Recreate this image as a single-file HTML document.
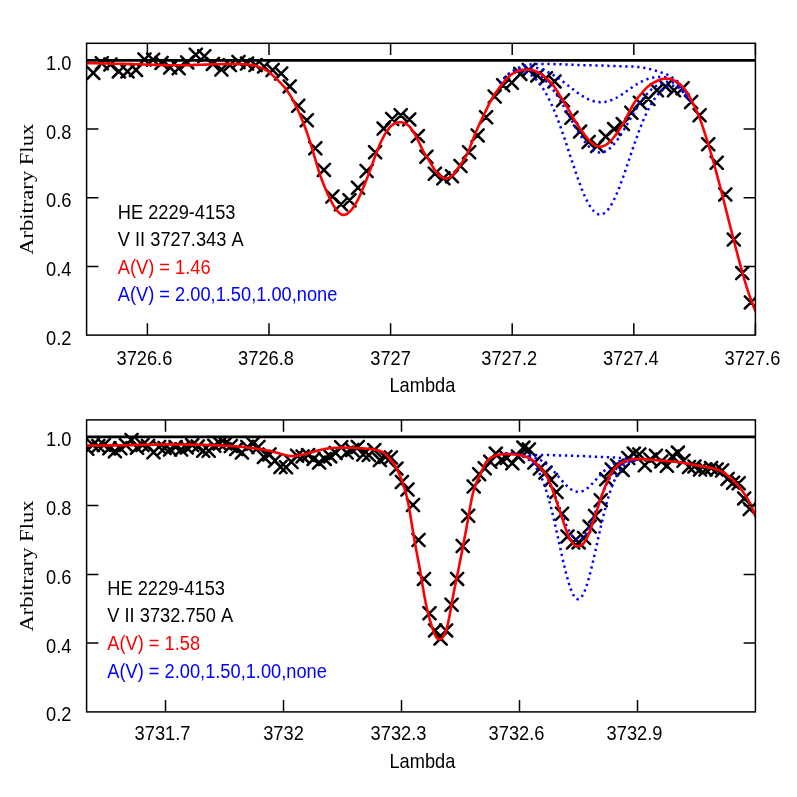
<!DOCTYPE html>
<html><head><meta charset="utf-8"><title>plot</title>
<style>
html,body{margin:0;padding:0;background:#fff;}
body{width:797px;height:797px;overflow:hidden;position:relative;font-family:"Liberation Sans",sans-serif;}
svg{display:block;position:absolute;left:0;top:0;will-change:transform;transform:translateZ(0)}
text{font-family:"Liberation Sans",sans-serif;font-size:18.25px;fill:#000;font-kerning:none}
.ser{font-family:"Liberation Serif",serif;font-size:18.2px}
.ax{stroke:#000;stroke-width:1.5;fill:none;stroke-linecap:square}
.tk{stroke:#000;stroke-width:1.5;fill:none;stroke-linecap:butt}
.x{stroke:#000;stroke-width:2.5;fill:none;stroke-linecap:round}
.red{stroke:#f00;stroke-width:2.6;fill:none;stroke-linejoin:round;stroke-linecap:round}
.blue{stroke:#00f;stroke-width:2.5;fill:none;stroke-dasharray:2.3 3.7;stroke-linecap:butt}
.one{stroke:#000;stroke-width:2.6;fill:none}
</style></head><body>
<svg width="797" height="797" viewBox="0 0 797 797">
<rect width="797" height="797" fill="#fff"/>
<defs>
<clipPath id="c1"><rect x="86.6" y="43.3" width="668.8" height="291.8"/></clipPath>
<clipPath id="c2"><rect x="86.6" y="419.9" width="668.8" height="292.0"/></clipPath>
</defs>

<g clip-path="url(#c1)">
<path class="x" d="M87.2 66.8 l12.2 12.2 M87.2 79.0 l12.2 -12.2M95.7 57.1 l12.2 12.2 M95.7 69.3 l12.2 -12.2M104.3 58.4 l12.2 12.2 M104.3 70.6 l12.2 -12.2M112.8 65.3 l12.2 12.2 M112.8 77.5 l12.2 -12.2M121.4 65.3 l12.2 12.2 M121.4 77.5 l12.2 -12.2M129.9 63.8 l12.2 12.2 M129.9 76.0 l12.2 -12.2M138.4 53.4 l12.2 12.2 M138.4 65.6 l12.2 -12.2M147.0 53.6 l12.2 12.2 M147.0 65.8 l12.2 -12.2M155.5 56.8 l12.2 12.2 M155.5 69.0 l12.2 -12.2M164.1 61.5 l12.2 12.2 M164.1 73.7 l12.2 -12.2M172.6 62.1 l12.2 12.2 M172.6 74.3 l12.2 -12.2M181.1 56.3 l12.2 12.2 M181.1 68.5 l12.2 -12.2M189.7 48.6 l12.2 12.2 M189.7 60.8 l12.2 -12.2M198.2 50.2 l12.2 12.2 M198.2 62.4 l12.2 -12.2M206.8 57.8 l12.2 12.2 M206.8 70.0 l12.2 -12.2M215.3 63.4 l12.2 12.2 M215.3 75.6 l12.2 -12.2M223.8 59.0 l12.2 12.2 M223.8 71.2 l12.2 -12.2M232.4 55.9 l12.2 12.2 M232.4 68.1 l12.2 -12.2M240.9 57.5 l12.2 12.2 M240.9 69.7 l12.2 -12.2M249.5 59.0 l12.2 12.2 M249.5 71.2 l12.2 -12.2M258.0 60.4 l12.2 12.2 M258.0 72.6 l12.2 -12.2M266.5 63.9 l12.2 12.2 M266.5 76.1 l12.2 -12.2M275.1 67.4 l12.2 12.2 M275.1 79.6 l12.2 -12.2M283.6 80.3 l12.2 12.2 M283.6 92.5 l12.2 -12.2M292.2 99.6 l12.2 12.2 M292.2 111.8 l12.2 -12.2M300.7 114.2 l12.2 12.2 M300.7 126.4 l12.2 -12.2M309.2 142.2 l12.2 12.2 M309.2 154.4 l12.2 -12.2M317.8 163.8 l12.2 12.2 M317.8 176.0 l12.2 -12.2M326.3 190.4 l12.2 12.2 M326.3 202.6 l12.2 -12.2M334.9 198.2 l12.2 12.2 M334.9 210.4 l12.2 -12.2M343.4 194.2 l12.2 12.2 M343.4 206.4 l12.2 -12.2M351.9 181.7 l12.2 12.2 M351.9 193.9 l12.2 -12.2M360.5 164.9 l12.2 12.2 M360.5 177.1 l12.2 -12.2M369.0 146.1 l12.2 12.2 M369.0 158.3 l12.2 -12.2M377.6 122.5 l12.2 12.2 M377.6 134.7 l12.2 -12.2M386.1 112.9 l12.2 12.2 M386.1 125.1 l12.2 -12.2M394.6 109.1 l12.2 12.2 M394.6 121.3 l12.2 -12.2M403.2 113.3 l12.2 12.2 M403.2 125.5 l12.2 -12.2M411.7 130.0 l12.2 12.2 M411.7 142.2 l12.2 -12.2M420.3 150.6 l12.2 12.2 M420.3 162.8 l12.2 -12.2M428.8 167.7 l12.2 12.2 M428.8 179.9 l12.2 -12.2M437.3 172.2 l12.2 12.2 M437.3 184.4 l12.2 -12.2M445.9 170.1 l12.2 12.2 M445.9 182.3 l12.2 -12.2M454.4 159.9 l12.2 12.2 M454.4 172.1 l12.2 -12.2M463.0 146.1 l12.2 12.2 M463.0 158.3 l12.2 -12.2M471.5 129.3 l12.2 12.2 M471.5 141.5 l12.2 -12.2M480.0 111.2 l12.2 12.2 M480.0 123.4 l12.2 -12.2M488.6 90.4 l12.2 12.2 M488.6 102.6 l12.2 -12.2M497.1 79.1 l12.2 12.2 M497.1 91.3 l12.2 -12.2M505.7 76.6 l12.2 12.2 M505.7 88.8 l12.2 -12.2M514.2 67.8 l12.2 12.2 M514.2 80.0 l12.2 -12.2M522.7 63.8 l12.2 12.2 M522.7 76.0 l12.2 -12.2M531.3 69.3 l12.2 12.2 M531.3 81.5 l12.2 -12.2M539.8 72.1 l12.2 12.2 M539.8 84.3 l12.2 -12.2M548.4 75.3 l12.2 12.2 M548.4 87.5 l12.2 -12.2M556.9 94.1 l12.2 12.2 M556.9 106.3 l12.2 -12.2M565.4 111.7 l12.2 12.2 M565.4 123.9 l12.2 -12.2M574.0 125.5 l12.2 12.2 M574.0 137.7 l12.2 -12.2M582.5 135.9 l12.2 12.2 M582.5 148.1 l12.2 -12.2M591.1 139.9 l12.2 12.2 M591.1 152.1 l12.2 -12.2M599.6 130.5 l12.2 12.2 M599.6 142.7 l12.2 -12.2M608.1 123.0 l12.2 12.2 M608.1 135.2 l12.2 -12.2M616.7 118.0 l12.2 12.2 M616.7 130.2 l12.2 -12.2M625.2 106.7 l12.2 12.2 M625.2 118.9 l12.2 -12.2M633.8 96.6 l12.2 12.2 M633.8 108.8 l12.2 -12.2M642.3 92.9 l12.2 12.2 M642.3 105.1 l12.2 -12.2M650.8 84.1 l12.2 12.2 M650.8 96.3 l12.2 -12.2M659.4 80.3 l12.2 12.2 M659.4 92.5 l12.2 -12.2M667.9 84.1 l12.2 12.2 M667.9 96.3 l12.2 -12.2M676.5 82.1 l12.2 12.2 M676.5 94.3 l12.2 -12.2M685.0 95.9 l12.2 12.2 M685.0 108.1 l12.2 -12.2M693.5 109.1 l12.2 12.2 M693.5 121.3 l12.2 -12.2M702.1 138.2 l12.2 12.2 M702.1 150.4 l12.2 -12.2M710.6 156.7 l12.2 12.2 M710.6 168.9 l12.2 -12.2M719.2 188.4 l12.2 12.2 M719.2 200.6 l12.2 -12.2M727.7 233.5 l12.2 12.2 M727.7 245.7 l12.2 -12.2M736.2 267.0 l12.2 12.2 M736.2 279.2 l12.2 -12.2M744.8 296.3 l12.2 12.2 M744.8 308.5 l12.2 -12.2"/>
<path class="one" d="M86.6 60.4 H755.4"/>
<path d="M500.0 83.5 L501.0 82.1 L502.0 80.8 L503.0 79.5 L504.0 78.4 L505.0 77.3 L506.0 76.3 L507.0 75.3 L508.0 74.4 L509.0 73.6 L510.0 72.9 L511.0 72.2 L512.0 71.5 L513.0 71.0 L514.0 70.4 L515.0 69.8 L516.0 69.2 L517.0 68.7 L518.0 68.1 L519.0 67.6 L520.0 67.1 L521.0 66.7 L522.0 66.3 L523.0 66.0 L524.0 65.7 L525.0 65.4 L526.0 65.2 L527.0 65.0 L528.0 64.8 L529.0 64.6 L530.0 64.5 L531.0 64.4 L532.0 64.3 L533.0 64.2 L534.0 64.2 L535.0 64.1 L536.0 64.1 L537.0 64.0 L538.0 64.0 L539.0 64.0 L540.0 64.0 L541.0 64.0 L542.0 64.0 L543.0 64.0 L544.0 64.0 L545.0 64.0 L546.0 64.0 L547.0 64.0 L548.0 64.0 L549.0 64.0 L550.0 64.1 L551.0 64.1 L552.0 64.1 L553.0 64.1 L554.0 64.1 L555.0 64.2 L556.0 64.2 L557.0 64.2 L558.0 64.2 L559.0 64.3 L560.0 64.3 L561.0 64.3 L562.0 64.4 L563.0 64.4 L564.0 64.5 L565.0 64.5 L566.0 64.5 L567.0 64.6 L568.0 64.6 L569.0 64.7 L570.0 64.7 L571.0 64.8 L572.0 64.8 L573.0 64.8 L574.0 64.9 L575.0 64.9 L576.0 65.0 L577.0 65.0 L578.0 65.0 L579.0 65.1 L580.0 65.1 L581.0 65.1 L582.0 65.2 L583.0 65.2 L584.0 65.2 L585.0 65.2 L586.0 65.2 L587.0 65.2 L588.0 65.3 L589.0 65.3 L590.0 65.3 L591.0 65.3 L592.0 65.3 L593.0 65.3 L594.0 65.4 L595.0 65.4 L596.0 65.4 L597.0 65.4 L598.0 65.4 L599.0 65.5 L600.0 65.5 L601.0 65.5 L602.0 65.6 L603.0 65.6 L604.0 65.6 L605.0 65.7 L606.0 65.7 L607.0 65.8 L608.0 65.8 L609.0 65.9 L610.0 65.9 L611.0 66.0 L612.0 66.0 L613.0 66.0 L614.0 66.1 L615.0 66.1 L616.0 66.2 L617.0 66.2 L618.0 66.2 L619.0 66.3 L620.0 66.3 L621.0 66.3 L622.0 66.3 L623.0 66.4 L624.0 66.4 L625.0 66.4 L626.0 66.4 L627.0 66.4 L628.0 66.5 L629.0 66.5 L630.0 66.5 L631.0 66.6 L632.0 66.6 L633.0 66.6 L634.0 66.7 L635.0 66.8 L636.0 66.8 L637.0 66.9 L638.0 67.0 L639.0 67.1 L640.0 67.2 L641.0 67.3 L642.0 67.5 L643.0 67.6 L644.0 67.8 L645.0 68.0 L646.0 68.2 L647.0 68.4 L648.0 68.6 L649.0 68.9 L650.0 69.1 L651.0 69.4 L652.0 69.7 L653.0 69.9 L654.0 70.2 L655.0 70.5 L656.0 70.8 L657.0 71.1 L658.0 71.4 L659.0 71.7 L660.0 72.0 L661.0 72.4 L662.0 72.7 L663.0 73.0 L664.0 73.4 L665.0 73.7 L666.0 74.1 L667.0 74.5 L668.0 75.0 L669.0 75.5 L670.0 76.1 L671.0 76.7 L672.0 77.3 L673.0 78.0 L674.0 78.6 L675.0 79.3 L676.0 80.1 L677.0 80.9 L678.0 81.9 L679.0 83.1 L680.0 84.3 L681.0 85.8 L682.0 87.4 L683.0 89.0 L684.0 90.6 L685.0 92.1 L686.0 93.5 L687.0 94.8 L688.0 96.1 L689.0 97.5 L690.0 99.1 L691.0 100.9 L692.0 103.0" class="blue"/>
<path d="M500.0 83.6 L501.0 82.3 L502.0 81.0 L503.0 79.7 L504.0 78.6 L505.0 77.5 L506.0 76.5 L507.0 75.6 L508.0 74.7 L509.0 74.0 L510.0 73.3 L511.0 72.6 L512.0 72.0 L513.0 71.5 L514.0 71.0 L515.0 70.5 L516.0 70.0 L517.0 69.5 L518.0 69.0 L519.0 68.6 L520.0 68.2 L521.0 67.9 L522.0 67.6 L523.0 67.3 L524.0 67.2 L525.0 67.0 L526.0 66.9 L527.0 66.9 L528.0 66.9 L529.0 66.9 L530.0 66.9 L531.0 67.0 L532.0 67.1 L533.0 67.3 L534.0 67.4 L535.0 67.6 L536.0 67.8 L537.0 68.1 L538.0 68.3 L539.0 68.6 L540.0 68.9 L541.0 69.3 L542.0 69.6 L543.0 70.0 L544.0 70.4 L545.0 70.8 L546.0 71.3 L547.0 71.7 L548.0 72.2 L549.0 72.7 L550.0 73.2 L551.0 73.7 L552.0 74.3 L553.0 74.9 L554.0 75.5 L555.0 76.1 L556.0 76.7 L557.0 77.3 L558.0 78.0 L559.0 78.7 L560.0 79.4 L561.0 80.1 L562.0 80.8 L563.0 81.6 L564.0 82.3 L565.0 83.1 L566.0 83.8 L567.0 84.6 L568.0 85.4 L569.0 86.2 L570.0 87.0 L571.0 87.8 L572.0 88.5 L573.0 89.3 L574.0 90.1 L575.0 90.9 L576.0 91.6 L577.0 92.4 L578.0 93.1 L579.0 93.8 L580.0 94.5 L581.0 95.2 L582.0 95.8 L583.0 96.4 L584.0 97.0 L585.0 97.6 L586.0 98.1 L587.0 98.7 L588.0 99.1 L589.0 99.6 L590.0 100.0 L591.0 100.4 L592.0 100.7 L593.0 101.1 L594.0 101.3 L595.0 101.6 L596.0 101.8 L597.0 101.9 L598.0 102.1 L599.0 102.1 L600.0 102.2 L601.0 102.2 L602.0 102.2 L603.0 102.1 L604.0 102.0 L605.0 101.9 L606.0 101.7 L607.0 101.5 L608.0 101.2 L609.0 101.0 L610.0 100.6 L611.0 100.3 L612.0 99.9 L613.0 99.5 L614.0 99.0 L615.0 98.5 L616.0 98.0 L617.0 97.5 L618.0 96.9 L619.0 96.3 L620.0 95.7 L621.0 95.0 L622.0 94.4 L623.0 93.7 L624.0 93.0 L625.0 92.3 L626.0 91.6 L627.0 90.9 L628.0 90.2 L629.0 89.5 L630.0 88.8 L631.0 88.1 L632.0 87.4 L633.0 86.7 L634.0 86.0 L635.0 85.3 L636.0 84.7 L637.0 84.1 L638.0 83.5 L639.0 82.9 L640.0 82.3 L641.0 81.8 L642.0 81.3 L643.0 80.8 L644.0 80.3 L645.0 79.9 L646.0 79.5 L647.0 79.2 L648.0 78.9 L649.0 78.6 L650.0 78.3 L651.0 78.0 L652.0 77.8 L653.0 77.6 L654.0 77.5 L655.0 77.3 L656.0 77.2 L657.0 77.1 L658.0 77.1 L659.0 77.0 L660.0 77.0 L661.0 77.0 L662.0 77.0 L663.0 77.1 L664.0 77.1 L665.0 77.2 L666.0 77.4 L667.0 77.6 L668.0 77.8 L669.0 78.1 L670.0 78.5 L671.0 78.9 L672.0 79.4 L673.0 79.9 L674.0 80.4 L675.0 80.9 L676.0 81.5 L677.0 82.3 L678.0 83.2 L679.0 84.2 L680.0 85.4 L681.0 86.8 L682.0 88.3 L683.0 89.8 L684.0 91.4 L685.0 92.8 L686.0 94.1 L687.0 95.3 L688.0 96.6 L689.0 98.0 L690.0 99.5 L691.0 101.3 L692.0 103.3" class="blue"/>
<path d="M500.0 83.8 L501.0 82.5 L502.0 81.2 L503.0 80.0 L504.0 78.9 L505.0 77.9 L506.0 76.9 L507.0 76.0 L508.0 75.2 L509.0 74.5 L510.0 73.8 L511.0 73.2 L512.0 72.7 L513.0 72.3 L514.0 71.8 L515.0 71.4 L516.0 71.0 L517.0 70.6 L518.0 70.2 L519.0 69.9 L520.0 69.6 L521.0 69.4 L522.0 69.3 L523.0 69.2 L524.0 69.2 L525.0 69.2 L526.0 69.3 L527.0 69.5 L528.0 69.7 L529.0 69.9 L530.0 70.2 L531.0 70.6 L532.0 71.0 L533.0 71.4 L534.0 71.9 L535.0 72.4 L536.0 73.0 L537.0 73.6 L538.0 74.3 L539.0 75.0 L540.0 75.8 L541.0 76.6 L542.0 77.4 L543.0 78.3 L544.0 79.2 L545.0 80.2 L546.0 81.2 L547.0 82.3 L548.0 83.4 L549.0 84.6 L550.0 85.8 L551.0 87.0 L552.0 88.3 L553.0 89.6 L554.0 91.0 L555.0 92.4 L556.0 93.9 L557.0 95.4 L558.0 96.9 L559.0 98.5 L560.0 100.1 L561.0 101.7 L562.0 103.4 L563.0 105.1 L564.0 106.8 L565.0 108.5 L566.0 110.3 L567.0 112.1 L568.0 113.9 L569.0 115.7 L570.0 117.5 L571.0 119.3 L572.0 121.1 L573.0 122.9 L574.0 124.6 L575.0 126.4 L576.0 128.1 L577.0 129.8 L578.0 131.5 L579.0 133.2 L580.0 134.8 L581.0 136.3 L582.0 137.8 L583.0 139.3 L584.0 140.7 L585.0 142.0 L586.0 143.3 L587.0 144.5 L588.0 145.6 L589.0 146.6 L590.0 147.6 L591.0 148.5 L592.0 149.3 L593.0 150.0 L594.0 150.6 L595.0 151.2 L596.0 151.6 L597.0 152.0 L598.0 152.3 L599.0 152.4 L600.0 152.5 L601.0 152.5 L602.0 152.4 L603.0 152.2 L604.0 151.9 L605.0 151.5 L606.0 151.0 L607.0 150.4 L608.0 149.8 L609.0 149.0 L610.0 148.2 L611.0 147.3 L612.0 146.3 L613.0 145.2 L614.0 144.1 L615.0 142.9 L616.0 141.6 L617.0 140.3 L618.0 138.9 L619.0 137.5 L620.0 136.0 L621.0 134.4 L622.0 132.8 L623.0 131.2 L624.0 129.6 L625.0 127.9 L626.0 126.2 L627.0 124.5 L628.0 122.7 L629.0 121.0 L630.0 119.3 L631.0 117.6 L632.0 115.9 L633.0 114.2 L634.0 112.5 L635.0 110.8 L636.0 109.2 L637.0 107.6 L638.0 106.0 L639.0 104.5 L640.0 103.0 L641.0 101.5 L642.0 100.1 L643.0 98.8 L644.0 97.5 L645.0 96.3 L646.0 95.1 L647.0 93.9 L648.0 92.8 L649.0 91.8 L650.0 90.8 L651.0 89.9 L652.0 89.0 L653.0 88.2 L654.0 87.4 L655.0 86.7 L656.0 86.0 L657.0 85.4 L658.0 84.8 L659.0 84.3 L660.0 83.8 L661.0 83.4 L662.0 83.0 L663.0 82.6 L664.0 82.3 L665.0 82.1 L666.0 81.9 L667.0 81.7 L668.0 81.7 L669.0 81.7 L670.0 81.8 L671.0 82.0 L672.0 82.2 L673.0 82.5 L674.0 82.8 L675.0 83.1 L676.0 83.6 L677.0 84.1 L678.0 84.9 L679.0 85.8 L680.0 86.8 L681.0 88.1 L682.0 89.5 L683.0 90.9 L684.0 92.4 L685.0 93.7 L686.0 94.9 L687.0 96.1 L688.0 97.3 L689.0 98.6 L690.0 100.0 L691.0 101.8 L692.0 103.8" class="blue"/>
<path d="M500.0 84.1 L501.0 82.7 L502.0 81.5 L503.0 80.3 L504.0 79.3 L505.0 78.3 L506.0 77.4 L507.0 76.5 L508.0 75.8 L509.0 75.1 L510.0 74.5 L511.0 74.0 L512.0 73.6 L513.0 73.2 L514.0 72.8 L515.0 72.5 L516.0 72.2 L517.0 71.9 L518.0 71.7 L519.0 71.5 L520.0 71.4 L521.0 71.4 L522.0 71.4 L523.0 71.5 L524.0 71.7 L525.0 72.0 L526.0 72.3 L527.0 72.7 L528.0 73.2 L529.0 73.7 L530.0 74.3 L531.0 75.0 L532.0 75.7 L533.0 76.5 L534.0 77.4 L535.0 78.4 L536.0 79.4 L537.0 80.5 L538.0 81.6 L539.0 82.8 L540.0 84.1 L541.0 85.5 L542.0 87.0 L543.0 88.5 L544.0 90.1 L545.0 91.8 L546.0 93.5 L547.0 95.3 L548.0 97.2 L549.0 99.2 L550.0 101.2 L551.0 103.3 L552.0 105.5 L553.0 107.8 L554.0 110.1 L555.0 112.5 L556.0 115.0 L557.0 117.6 L558.0 120.2 L559.0 122.8 L560.0 125.6 L561.0 128.3 L562.0 131.2 L563.0 134.1 L564.0 137.0 L565.0 139.9 L566.0 142.9 L567.0 145.9 L568.0 149.0 L569.0 152.0 L570.0 155.1 L571.0 158.1 L572.0 161.2 L573.0 164.2 L574.0 167.2 L575.0 170.2 L576.0 173.2 L577.0 176.1 L578.0 178.9 L579.0 181.7 L580.0 184.4 L581.0 187.1 L582.0 189.6 L583.0 192.1 L584.0 194.4 L585.0 196.7 L586.0 198.9 L587.0 200.9 L588.0 202.8 L589.0 204.6 L590.0 206.2 L591.0 207.8 L592.0 209.1 L593.0 210.3 L594.0 211.4 L595.0 212.3 L596.0 213.1 L597.0 213.7 L598.0 214.1 L599.0 214.4 L600.0 214.5 L601.0 214.4 L602.0 214.2 L603.0 213.9 L604.0 213.3 L605.0 212.6 L606.0 211.8 L607.0 210.8 L608.0 209.6 L609.0 208.3 L610.0 206.9 L611.0 205.3 L612.0 203.5 L613.0 201.7 L614.0 199.7 L615.0 197.6 L616.0 195.4 L617.0 193.1 L618.0 190.7 L619.0 188.2 L620.0 185.6 L621.0 182.9 L622.0 180.2 L623.0 177.4 L624.0 174.6 L625.0 171.7 L626.0 168.8 L627.0 165.8 L628.0 162.9 L629.0 159.9 L630.0 156.9 L631.0 153.9 L632.0 151.0 L633.0 148.0 L634.0 145.1 L635.0 142.2 L636.0 139.4 L637.0 136.6 L638.0 133.8 L639.0 131.1 L640.0 128.5 L641.0 125.9 L642.0 123.4 L643.0 121.0 L644.0 118.6 L645.0 116.4 L646.0 114.2 L647.0 112.1 L648.0 110.1 L649.0 108.1 L650.0 106.3 L651.0 104.5 L652.0 102.8 L653.0 101.2 L654.0 99.7 L655.0 98.3 L656.0 96.9 L657.0 95.6 L658.0 94.4 L659.0 93.3 L660.0 92.2 L661.0 91.2 L662.0 90.3 L663.0 89.5 L664.0 88.7 L665.0 88.0 L666.0 87.4 L667.0 86.8 L668.0 86.4 L669.0 86.1 L670.0 85.9 L671.0 85.7 L672.0 85.7 L673.0 85.7 L674.0 85.7 L675.0 85.9 L676.0 86.1 L677.0 86.4 L678.0 87.0 L679.0 87.7 L680.0 88.6 L681.0 89.7 L682.0 90.9 L683.0 92.3 L684.0 93.6 L685.0 94.8 L686.0 95.9 L687.0 97.0 L688.0 98.1 L689.0 99.3 L690.0 100.7 L691.0 102.4 L692.0 104.4" class="blue"/>
<path d="M80.0 63.2 L81.0 63.2 L82.0 63.2 L83.0 63.2 L84.0 63.2 L85.0 63.2 L86.0 63.2 L87.0 63.2 L88.0 63.2 L89.0 63.2 L90.0 63.2 L91.0 63.2 L92.0 63.2 L93.0 63.3 L94.0 63.3 L95.0 63.3 L96.0 63.3 L97.0 63.3 L98.0 63.3 L99.0 63.4 L100.0 63.4 L101.0 63.4 L102.0 63.4 L103.0 63.4 L104.0 63.5 L105.0 63.5 L106.0 63.5 L107.0 63.5 L108.0 63.6 L109.0 63.6 L110.0 63.6 L111.0 63.6 L112.0 63.6 L113.0 63.7 L114.0 63.7 L115.0 63.7 L116.0 63.7 L117.0 63.8 L118.0 63.8 L119.0 63.8 L120.0 63.8 L121.0 63.8 L122.0 63.9 L123.0 63.9 L124.0 63.9 L125.0 63.9 L126.0 64.0 L127.0 64.0 L128.0 64.0 L129.0 64.0 L130.0 64.1 L131.0 64.1 L132.0 64.1 L133.0 64.1 L134.0 64.2 L135.0 64.2 L136.0 64.2 L137.0 64.3 L138.0 64.3 L139.0 64.3 L140.0 64.4 L141.0 64.4 L142.0 64.4 L143.0 64.5 L144.0 64.5 L145.0 64.5 L146.0 64.6 L147.0 64.6 L148.0 64.6 L149.0 64.7 L150.0 64.7 L151.0 64.7 L152.0 64.8 L153.0 64.8 L154.0 64.8 L155.0 64.9 L156.0 64.9 L157.0 64.9 L158.0 64.9 L159.0 65.0 L160.0 65.0 L161.0 65.0 L162.0 65.0 L163.0 65.1 L164.0 65.1 L165.0 65.1 L166.0 65.1 L167.0 65.1 L168.0 65.2 L169.0 65.2 L170.0 65.2 L171.0 65.2 L172.0 65.2 L173.0 65.2 L174.0 65.2 L175.0 65.2 L176.0 65.2 L177.0 65.2 L178.0 65.2 L179.0 65.2 L180.0 65.2 L181.0 65.2 L182.0 65.2 L183.0 65.2 L184.0 65.2 L185.0 65.1 L186.0 65.1 L187.0 65.1 L188.0 65.1 L189.0 65.1 L190.0 65.0 L191.0 65.0 L192.0 65.0 L193.0 65.0 L194.0 64.9 L195.0 64.9 L196.0 64.9 L197.0 64.9 L198.0 64.8 L199.0 64.8 L200.0 64.8 L201.0 64.7 L202.0 64.7 L203.0 64.7 L204.0 64.6 L205.0 64.6 L206.0 64.6 L207.0 64.5 L208.0 64.5 L209.0 64.5 L210.0 64.4 L211.0 64.4 L212.0 64.4 L213.0 64.3 L214.0 64.3 L215.0 64.3 L216.0 64.2 L217.0 64.2 L218.0 64.2 L219.0 64.2 L220.0 64.1 L221.0 64.1 L222.0 64.1 L223.0 64.1 L224.0 64.1 L225.0 64.0 L226.0 64.0 L227.0 64.0 L228.0 64.0 L229.0 64.0 L230.0 64.0 L231.0 64.0 L232.0 64.0 L233.0 64.0 L234.0 64.0 L235.0 64.0 L236.0 64.0 L237.0 64.0 L238.0 64.1 L239.0 64.1 L240.0 64.1 L241.0 64.1 L242.0 64.2 L243.0 64.2 L244.0 64.3 L245.0 64.3 L246.0 64.4 L247.0 64.4 L248.0 64.5 L249.0 64.6 L250.0 64.7 L251.0 64.8 L252.0 64.9 L253.0 65.1 L254.0 65.3 L255.0 65.6 L256.0 65.9 L257.0 66.2 L258.0 66.6 L259.0 67.0 L260.0 67.4 L261.0 67.8 L262.0 68.3 L263.0 68.7 L264.0 69.2 L265.0 69.7 L266.0 70.2 L267.0 70.8 L268.0 71.4 L269.0 72.1 L270.0 72.9 L271.0 73.8 L272.0 74.7 L273.0 75.6 L274.0 76.5 L275.0 77.5 L276.0 78.5 L277.0 79.4 L278.0 80.4 L279.0 81.4 L280.0 82.4 L281.0 83.4 L282.0 84.5 L283.0 85.6 L284.0 86.7 L285.0 87.9 L286.0 89.2 L287.0 90.6 L288.0 92.0 L289.0 93.5 L290.0 95.0 L291.0 96.7 L292.0 98.4 L293.0 100.2 L294.0 102.1 L295.0 104.1 L296.0 106.1 L297.0 108.2 L298.0 110.3 L299.0 112.5 L300.0 114.8 L301.0 117.2 L302.0 119.6 L303.0 122.1 L304.0 124.7 L305.0 127.3 L306.0 130.0 L307.0 132.8 L308.0 135.7 L309.0 138.7 L310.0 141.7 L311.0 144.8 L312.0 148.1 L313.0 151.4 L314.0 154.8 L315.0 158.3 L316.0 161.7 L317.0 165.1 L318.0 168.5 L319.0 171.7 L320.0 174.7 L321.0 177.5 L322.0 180.2 L323.0 182.8 L324.0 185.2 L325.0 187.7 L326.0 190.1 L327.0 192.4 L328.0 194.7 L329.0 196.8 L330.0 198.9 L331.0 200.9 L332.0 202.8 L333.0 204.6 L334.0 206.3 L335.0 207.8 L336.0 209.3 L337.0 210.6 L338.0 211.7 L339.0 212.8 L340.0 213.6 L341.0 214.3 L342.0 214.7 L343.0 214.9 L344.0 214.9 L345.0 214.7 L346.0 214.3 L347.0 213.8 L348.0 213.1 L349.0 212.3 L350.0 211.3 L351.0 210.3 L352.0 209.1 L353.0 207.8 L354.0 206.4 L355.0 204.9 L356.0 203.2 L357.0 201.4 L358.0 199.5 L359.0 197.5 L360.0 195.3 L361.0 193.0 L362.0 190.7 L363.0 188.3 L364.0 185.9 L365.0 183.4 L366.0 180.9 L367.0 178.4 L368.0 175.8 L369.0 173.1 L370.0 170.4 L371.0 167.7 L372.0 164.9 L373.0 162.2 L374.0 159.4 L375.0 156.7 L376.0 154.0 L377.0 151.4 L378.0 148.9 L379.0 146.4 L380.0 144.0 L381.0 141.8 L382.0 139.7 L383.0 137.6 L384.0 135.8 L385.0 134.0 L386.0 132.4 L387.0 130.9 L388.0 129.5 L389.0 128.2 L390.0 127.1 L391.0 126.1 L392.0 125.3 L393.0 124.5 L394.0 123.9 L395.0 123.4 L396.0 123.0 L397.0 122.7 L398.0 122.5 L399.0 122.3 L400.0 122.3 L401.0 122.3 L402.0 122.4 L403.0 122.6 L404.0 122.9 L405.0 123.3 L406.0 123.8 L407.0 124.4 L408.0 125.2 L409.0 126.1 L410.0 127.2 L411.0 128.4 L412.0 129.7 L413.0 131.2 L414.0 132.8 L415.0 134.5 L416.0 136.3 L417.0 138.2 L418.0 140.2 L419.0 142.3 L420.0 144.4 L421.0 146.6 L422.0 148.6 L423.0 150.6 L424.0 152.4 L425.0 154.0 L426.0 155.7 L427.0 157.3 L428.0 158.9 L429.0 160.5 L430.0 162.2 L431.0 163.8 L432.0 165.5 L433.0 167.2 L434.0 168.8 L435.0 170.3 L436.0 171.7 L437.0 173.0 L438.0 174.1 L439.0 175.1 L440.0 175.9 L441.0 176.7 L442.0 177.3 L443.0 177.8 L444.0 178.2 L445.0 178.5 L446.0 178.5 L447.0 178.4 L448.0 178.1 L449.0 177.7 L450.0 177.2 L451.0 176.5 L452.0 175.8 L453.0 174.9 L454.0 173.8 L455.0 172.5 L456.0 171.2 L457.0 169.7 L458.0 168.2 L459.0 166.7 L460.0 165.3 L461.0 163.9 L462.0 162.5 L463.0 161.0 L464.0 159.5 L465.0 157.9 L466.0 156.1 L467.0 154.2 L468.0 152.0 L469.0 149.7 L470.0 147.3 L471.0 144.7 L472.0 142.1 L473.0 139.5 L474.0 136.8 L475.0 134.3 L476.0 131.8 L477.0 129.5 L478.0 127.2 L479.0 125.0 L480.0 122.9 L481.0 120.8 L482.0 118.7 L483.0 116.6 L484.0 114.6 L485.0 112.5 L486.0 110.4 L487.0 108.4 L488.0 106.3 L489.0 104.3 L490.0 102.4 L491.0 100.5 L492.0 98.7 L493.0 97.0 L494.0 95.4 L495.0 93.8 L496.0 92.3 L497.0 90.9 L498.0 89.5 L499.0 88.2 L500.0 86.9 L501.0 85.6 L502.0 84.3 L503.0 83.0 L504.0 81.8 L505.0 80.6 L506.0 79.5 L507.0 78.4 L508.0 77.4 L509.0 76.5 L510.0 75.6 L511.0 74.8 L512.0 74.1 L513.0 73.5 L514.0 72.9 L515.0 72.3 L516.0 71.8 L517.0 71.4 L518.0 71.0 L519.0 70.7 L520.0 70.4 L521.0 70.2 L522.0 70.0 L523.0 69.9 L524.0 69.7 L525.0 69.7 L526.0 69.6 L527.0 69.6 L528.0 69.6 L529.0 69.7 L530.0 69.8 L531.0 69.9 L532.0 70.1 L533.0 70.3 L534.0 70.6 L535.0 70.9 L536.0 71.3 L537.0 71.8 L538.0 72.3 L539.0 72.9 L540.0 73.5 L541.0 74.2 L542.0 74.9 L543.0 75.7 L544.0 76.5 L545.0 77.3 L546.0 78.1 L547.0 78.9 L548.0 79.8 L549.0 80.7 L550.0 81.7 L551.0 82.7 L552.0 83.9 L553.0 85.1 L554.0 86.4 L555.0 87.9 L556.0 89.3 L557.0 90.9 L558.0 92.5 L559.0 94.1 L560.0 95.7 L561.0 97.3 L562.0 98.9 L563.0 100.5 L564.0 102.1 L565.0 103.7 L566.0 105.3 L567.0 107.0 L568.0 108.6 L569.0 110.3 L570.0 112.1 L571.0 113.9 L572.0 115.7 L573.0 117.4 L574.0 119.1 L575.0 120.8 L576.0 122.5 L577.0 124.0 L578.0 125.6 L579.0 127.0 L580.0 128.5 L581.0 129.9 L582.0 131.2 L583.0 132.6 L584.0 133.9 L585.0 135.3 L586.0 136.6 L587.0 137.9 L588.0 139.1 L589.0 140.2 L590.0 141.3 L591.0 142.2 L592.0 143.1 L593.0 143.9 L594.0 144.6 L595.0 145.2 L596.0 145.7 L597.0 146.1 L598.0 146.4 L599.0 146.6 L600.0 146.7 L601.0 146.6 L602.0 146.4 L603.0 146.2 L604.0 145.8 L605.0 145.3 L606.0 144.8 L607.0 144.2 L608.0 143.4 L609.0 142.6 L610.0 141.6 L611.0 140.6 L612.0 139.5 L613.0 138.3 L614.0 137.0 L615.0 135.7 L616.0 134.4 L617.0 133.0 L618.0 131.6 L619.0 130.1 L620.0 128.6 L621.0 127.0 L622.0 125.4 L623.0 123.7 L624.0 122.0 L625.0 120.2 L626.0 118.3 L627.0 116.3 L628.0 114.4 L629.0 112.4 L630.0 110.4 L631.0 108.5 L632.0 106.7 L633.0 104.9 L634.0 103.3 L635.0 101.8 L636.0 100.4 L637.0 99.0 L638.0 97.7 L639.0 96.5 L640.0 95.2 L641.0 94.0 L642.0 92.8 L643.0 91.6 L644.0 90.5 L645.0 89.4 L646.0 88.4 L647.0 87.4 L648.0 86.5 L649.0 85.7 L650.0 85.0 L651.0 84.3 L652.0 83.7 L653.0 83.1 L654.0 82.5 L655.0 82.0 L656.0 81.5 L657.0 81.0 L658.0 80.5 L659.0 80.1 L660.0 79.7 L661.0 79.3 L662.0 79.1 L663.0 78.9 L664.0 78.7 L665.0 78.6 L666.0 78.6 L667.0 78.6 L668.0 78.7 L669.0 78.8 L670.0 79.1 L671.0 79.3 L672.0 79.6 L673.0 80.0 L674.0 80.5 L675.0 81.0 L676.0 81.6 L677.0 82.2 L678.0 82.9 L679.0 83.6 L680.0 84.4 L681.0 85.3 L682.0 86.3 L683.0 87.3 L684.0 88.4 L685.0 89.7 L686.0 91.1 L687.0 92.6 L688.0 94.2 L689.0 95.9 L690.0 97.7 L691.0 99.5 L692.0 101.4 L693.0 103.4 L694.0 105.5 L695.0 107.6 L696.0 109.7 L697.0 111.9 L698.0 114.2 L699.0 116.6 L700.0 119.1 L701.0 121.8 L702.0 124.6 L703.0 127.6 L704.0 130.6 L705.0 133.7 L706.0 136.8 L707.0 140.0 L708.0 143.3 L709.0 146.6 L710.0 150.0 L711.0 153.4 L712.0 156.8 L713.0 160.4 L714.0 163.9 L715.0 167.5 L716.0 171.2 L717.0 174.9 L718.0 178.7 L719.0 182.4 L720.0 186.3 L721.0 190.1 L722.0 194.0 L723.0 197.9 L724.0 201.8 L725.0 205.7 L726.0 209.7 L727.0 213.6 L728.0 217.6 L729.0 221.5 L730.0 225.5 L731.0 229.4 L732.0 233.3 L733.0 237.2 L734.0 241.1 L735.0 245.0 L736.0 248.8 L737.0 252.6 L738.0 256.4 L739.0 260.1 L740.0 263.8 L741.0 267.4 L742.0 271.0 L743.0 274.6 L744.0 278.1 L745.0 281.5 L746.0 284.9 L747.0 288.1 L748.0 291.2 L749.0 294.2 L750.0 297.0 L751.0 299.7 L752.0 302.4 L753.0 304.9 L754.0 307.4 L755.0 309.9 L756.0 312.3 L757.0 314.7 L758.0 317.1 L759.0 319.5 L760.0 322.0" class="red"/>
</g>
<rect class="ax" x="86.6" y="43.3" width="668.8" height="291.8"/>
<path class="tk" d="M147.4 335.1 v-11.8 M147.4 43.3 v11.8M269.0 335.1 v-11.8 M269.0 43.3 v11.8M390.6 335.1 v-11.8 M390.6 43.3 v11.8M512.2 335.1 v-11.8 M512.2 43.3 v11.8M633.8 335.1 v-11.8 M633.8 43.3 v11.8M755.4 335.1 v-11.8 M755.4 43.3 v11.8M86.6 129.1 h11.8 M755.4 129.1 h-11.8M86.6 197.8 h11.8 M755.4 197.8 h-11.8M86.6 266.5 h11.8 M755.4 266.5 h-11.8"/>
<text transform="translate(144.4 364.5) scale(1 1.090)" text-anchor="middle">3726.6</text>
<text transform="translate(266.0 364.5) scale(1 1.090)" text-anchor="middle">3726.8</text>
<text transform="translate(390.6 364.5) scale(1 1.090)" text-anchor="middle">3727</text>
<text transform="translate(509.2 364.5) scale(1 1.090)" text-anchor="middle">3727.2</text>
<text transform="translate(630.8 364.5) scale(1 1.090)" text-anchor="middle">3727.4</text>
<text transform="translate(752.4 364.5) scale(1 1.090)" text-anchor="middle">3727.6</text>
<text transform="translate(71.4 69.9) scale(1 1.090)" text-anchor="end">1.0</text>
<text transform="translate(71.4 138.6) scale(1 1.090)" text-anchor="end">0.8</text>
<text transform="translate(71.4 207.3) scale(1 1.090)" text-anchor="end">0.6</text>
<text transform="translate(71.4 276.0) scale(1 1.090)" text-anchor="end">0.4</text>
<text transform="translate(71.4 344.7) scale(1 1.090)" text-anchor="end">0.2</text>
<text transform="translate(422.4 392.0) scale(1 1.090)" text-anchor="middle">Lambda</text>
<text class="ser" transform="translate(33.0 189.3) rotate(-90)" text-anchor="middle" textLength="131.0" lengthAdjust="spacingAndGlyphs">Arbitrary Flux</text>
<text transform="translate(117.8 218.5) scale(1 1.090)" style="fill:#000">HE 2229-4153</text>
<text transform="translate(117.8 246.2) scale(1 1.090)" style="fill:#000">V II 3727.343 A</text>
<text transform="translate(117.8 274.0) scale(1 1.090)" style="fill:#f00">A(V) = 1.46</text>
<text transform="translate(117.8 301.0) scale(1 1.090)" style="fill:#00f">A(V) = 2.00,1.50,1.00,none</text>
<g clip-path="url(#c2)">
<path class="x" d="M81.2 442.7 l12.2 12.2 M81.2 454.9 l12.2 -12.2M86.7 438.9 l12.2 12.2 M86.7 451.1 l12.2 -12.2M92.2 439.9 l12.2 12.2 M92.2 452.1 l12.2 -12.2M97.8 438.9 l12.2 12.2 M97.8 451.1 l12.2 -12.2M103.3 442.2 l12.2 12.2 M103.3 454.4 l12.2 -12.2M108.8 445.2 l12.2 12.2 M108.8 457.4 l12.2 -12.2M114.3 442.2 l12.2 12.2 M114.3 454.4 l12.2 -12.2M119.8 438.9 l12.2 12.2 M119.8 451.1 l12.2 -12.2M125.4 433.8 l12.2 12.2 M125.4 446.0 l12.2 -12.2M130.9 441.7 l12.2 12.2 M130.9 453.9 l12.2 -12.2M136.4 438.9 l12.2 12.2 M136.4 451.1 l12.2 -12.2M141.9 439.9 l12.2 12.2 M141.9 452.1 l12.2 -12.2M147.4 446.2 l12.2 12.2 M147.4 458.4 l12.2 -12.2M153.0 440.9 l12.2 12.2 M153.0 453.1 l12.2 -12.2M158.5 441.9 l12.2 12.2 M158.5 454.1 l12.2 -12.2M164.0 443.4 l12.2 12.2 M164.0 455.6 l12.2 -12.2M169.5 440.9 l12.2 12.2 M169.5 453.1 l12.2 -12.2M175.0 443.4 l12.2 12.2 M175.0 455.6 l12.2 -12.2M180.6 441.4 l12.2 12.2 M180.6 453.6 l12.2 -12.2M186.1 439.0 l12.2 12.2 M186.1 451.2 l12.2 -12.2M191.6 440.4 l12.2 12.2 M191.6 452.6 l12.2 -12.2M197.1 444.6 l12.2 12.2 M197.1 456.8 l12.2 -12.2M202.6 444.6 l12.2 12.2 M202.6 456.8 l12.2 -12.2M208.2 439.6 l12.2 12.2 M208.2 451.8 l12.2 -12.2M213.7 437.5 l12.2 12.2 M213.7 449.7 l12.2 -12.2M219.2 437.5 l12.2 12.2 M219.2 449.7 l12.2 -12.2M224.7 439.9 l12.2 12.2 M224.7 452.1 l12.2 -12.2M230.2 443.0 l12.2 12.2 M230.2 455.2 l12.2 -12.2M235.8 446.5 l12.2 12.2 M235.8 458.7 l12.2 -12.2M241.3 440.9 l12.2 12.2 M241.3 453.1 l12.2 -12.2M246.8 437.7 l12.2 12.2 M246.8 449.9 l12.2 -12.2M252.3 440.9 l12.2 12.2 M252.3 453.1 l12.2 -12.2M257.8 450.9 l12.2 12.2 M257.8 463.1 l12.2 -12.2M263.4 448.4 l12.2 12.2 M263.4 460.6 l12.2 -12.2M268.9 454.7 l12.2 12.2 M268.9 466.9 l12.2 -12.2M274.4 460.9 l12.2 12.2 M274.4 473.1 l12.2 -12.2M279.9 461.2 l12.2 12.2 M279.9 473.4 l12.2 -12.2M285.4 455.9 l12.2 12.2 M285.4 468.1 l12.2 -12.2M291.0 449.6 l12.2 12.2 M291.0 461.8 l12.2 -12.2M296.5 450.3 l12.2 12.2 M296.5 462.5 l12.2 -12.2M302.0 449.0 l12.2 12.2 M302.0 461.2 l12.2 -12.2M307.5 452.8 l12.2 12.2 M307.5 465.0 l12.2 -12.2M313.0 456.5 l12.2 12.2 M313.0 468.7 l12.2 -12.2M318.6 452.8 l12.2 12.2 M318.6 465.0 l12.2 -12.2M324.1 450.3 l12.2 12.2 M324.1 462.5 l12.2 -12.2M329.6 446.9 l12.2 12.2 M329.6 459.1 l12.2 -12.2M335.1 441.2 l12.2 12.2 M335.1 453.4 l12.2 -12.2M340.6 446.5 l12.2 12.2 M340.6 458.7 l12.2 -12.2M346.2 443.9 l12.2 12.2 M346.2 456.1 l12.2 -12.2M351.7 440.9 l12.2 12.2 M351.7 453.1 l12.2 -12.2M357.2 448.4 l12.2 12.2 M357.2 460.6 l12.2 -12.2M362.7 449.0 l12.2 12.2 M362.7 461.2 l12.2 -12.2M368.2 444.0 l12.2 12.2 M368.2 456.2 l12.2 -12.2M373.8 454.0 l12.2 12.2 M373.8 466.2 l12.2 -12.2M379.3 450.9 l12.2 12.2 M379.3 463.1 l12.2 -12.2M384.8 451.4 l12.2 12.2 M384.8 463.6 l12.2 -12.2M390.3 462.5 l12.2 12.2 M390.3 474.7 l12.2 -12.2M395.8 475.9 l12.2 12.2 M395.8 488.1 l12.2 -12.2M401.4 483.4 l12.2 12.2 M401.4 495.6 l12.2 -12.2M406.9 498.9 l12.2 12.2 M406.9 511.1 l12.2 -12.2M412.4 533.9 l12.2 12.2 M412.4 546.1 l12.2 -12.2M417.9 572.8 l12.2 12.2 M417.9 585.0 l12.2 -12.2M423.4 607.2 l12.2 12.2 M423.4 619.4 l12.2 -12.2M429.0 624.3 l12.2 12.2 M429.0 636.5 l12.2 -12.2M434.5 632.5 l12.2 12.2 M434.5 644.7 l12.2 -12.2M440.0 624.3 l12.2 12.2 M440.0 636.5 l12.2 -12.2M445.5 598.7 l12.2 12.2 M445.5 610.9 l12.2 -12.2M451.0 572.8 l12.2 12.2 M451.0 585.0 l12.2 -12.2M456.6 539.9 l12.2 12.2 M456.6 552.1 l12.2 -12.2M462.1 509.7 l12.2 12.2 M462.1 521.9 l12.2 -12.2M467.6 480.4 l12.2 12.2 M467.6 492.6 l12.2 -12.2M473.1 468.1 l12.2 12.2 M473.1 480.3 l12.2 -12.2M478.6 462.2 l12.2 12.2 M478.6 474.4 l12.2 -12.2M484.2 455.7 l12.2 12.2 M484.2 467.9 l12.2 -12.2M489.7 447.5 l12.2 12.2 M489.7 459.7 l12.2 -12.2M495.2 453.9 l12.2 12.2 M495.2 466.1 l12.2 -12.2M500.7 451.9 l12.2 12.2 M500.7 464.1 l12.2 -12.2M506.2 457.2 l12.2 12.2 M506.2 469.4 l12.2 -12.2M511.8 450.3 l12.2 12.2 M511.8 462.5 l12.2 -12.2M517.3 441.5 l12.2 12.2 M517.3 453.7 l12.2 -12.2M522.8 443.4 l12.2 12.2 M522.8 455.6 l12.2 -12.2M528.3 456.5 l12.2 12.2 M528.3 468.7 l12.2 -12.2M533.8 462.4 l12.2 12.2 M533.8 474.6 l12.2 -12.2M539.4 466.5 l12.2 12.2 M539.4 478.7 l12.2 -12.2M544.9 473.8 l12.2 12.2 M544.9 486.0 l12.2 -12.2M550.4 485.9 l12.2 12.2 M550.4 498.1 l12.2 -12.2M555.9 507.7 l12.2 12.2 M555.9 519.9 l12.2 -12.2M561.4 530.3 l12.2 12.2 M561.4 542.5 l12.2 -12.2M567.0 536.3 l12.2 12.2 M567.0 548.5 l12.2 -12.2M572.5 536.3 l12.2 12.2 M572.5 548.5 l12.2 -12.2M578.0 531.9 l12.2 12.2 M578.0 544.1 l12.2 -12.2M583.5 520.5 l12.2 12.2 M583.5 532.7 l12.2 -12.2M589.0 509.9 l12.2 12.2 M589.0 522.1 l12.2 -12.2M594.6 494.1 l12.2 12.2 M594.6 506.3 l12.2 -12.2M600.1 473.1 l12.2 12.2 M600.1 485.3 l12.2 -12.2M605.6 463.3 l12.2 12.2 M605.6 475.5 l12.2 -12.2M611.1 459.5 l12.2 12.2 M611.1 471.7 l12.2 -12.2M616.6 464.0 l12.2 12.2 M616.6 476.2 l12.2 -12.2M622.2 451.9 l12.2 12.2 M622.2 464.1 l12.2 -12.2M627.7 447.5 l12.2 12.2 M627.7 459.7 l12.2 -12.2M633.2 448.3 l12.2 12.2 M633.2 460.5 l12.2 -12.2M638.7 459.1 l12.2 12.2 M638.7 471.3 l12.2 -12.2M644.2 453.4 l12.2 12.2 M644.2 465.6 l12.2 -12.2M649.8 449.6 l12.2 12.2 M649.8 461.8 l12.2 -12.2M655.3 455.3 l12.2 12.2 M655.3 467.5 l12.2 -12.2M660.8 459.7 l12.2 12.2 M660.8 471.9 l12.2 -12.2M666.3 450.3 l12.2 12.2 M666.3 462.5 l12.2 -12.2M671.8 446.5 l12.2 12.2 M671.8 458.7 l12.2 -12.2M677.4 454.7 l12.2 12.2 M677.4 466.9 l12.2 -12.2M682.9 460.9 l12.2 12.2 M682.9 473.1 l12.2 -12.2M688.4 460.3 l12.2 12.2 M688.4 472.5 l12.2 -12.2M693.9 463.4 l12.2 12.2 M693.9 475.6 l12.2 -12.2M699.4 463.4 l12.2 12.2 M699.4 475.6 l12.2 -12.2M705.0 461.9 l12.2 12.2 M705.0 474.1 l12.2 -12.2M710.5 463.4 l12.2 12.2 M710.5 475.6 l12.2 -12.2M716.0 464.4 l12.2 12.2 M716.0 476.6 l12.2 -12.2M721.5 472.8 l12.2 12.2 M721.5 485.0 l12.2 -12.2M727.0 476.6 l12.2 12.2 M727.0 488.8 l12.2 -12.2M732.6 477.2 l12.2 12.2 M732.6 489.4 l12.2 -12.2M738.1 492.3 l12.2 12.2 M738.1 504.5 l12.2 -12.2M743.6 502.9 l12.2 12.2 M743.6 515.1 l12.2 -12.2"/>
<path class="one" d="M86.6 436.9 H755.4"/>
<path d="M505.0 453.4 L506.0 453.4 L507.0 453.3 L508.0 453.3 L509.0 453.4 L510.0 453.4 L511.0 453.5 L512.0 453.5 L513.0 453.6 L514.0 453.7 L515.0 453.8 L516.0 453.9 L517.0 454.0 L518.0 454.1 L519.0 454.2 L520.0 454.3 L521.0 454.4 L522.0 454.5 L523.0 454.6 L524.0 454.6 L525.0 454.7 L526.0 454.8 L527.0 454.8 L528.0 454.8 L529.0 454.9 L530.0 454.9 L531.0 454.9 L532.0 454.9 L533.0 455.0 L534.0 455.0 L535.0 455.0 L536.0 455.0 L537.0 455.0 L538.0 455.0 L539.0 455.0 L540.0 455.0 L541.0 455.0 L542.0 455.0 L543.0 455.0 L544.0 455.0 L545.0 455.1 L546.0 455.1 L547.0 455.1 L548.0 455.1 L549.0 455.1 L550.0 455.2 L551.0 455.2 L552.0 455.2 L553.0 455.2 L554.0 455.3 L555.0 455.3 L556.0 455.3 L557.0 455.3 L558.0 455.4 L559.0 455.4 L560.0 455.4 L561.0 455.4 L562.0 455.4 L563.0 455.5 L564.0 455.5 L565.0 455.5 L566.0 455.5 L567.0 455.6 L568.0 455.6 L569.0 455.6 L570.0 455.7 L571.0 455.7 L572.0 455.7 L573.0 455.7 L574.0 455.8 L575.0 455.8 L576.0 455.8 L577.0 455.9 L578.0 455.9 L579.0 455.9 L580.0 456.0 L581.0 456.0 L582.0 456.1 L583.0 456.1 L584.0 456.1 L585.0 456.2 L586.0 456.2 L587.0 456.3 L588.0 456.3 L589.0 456.4 L590.0 456.4 L591.0 456.5 L592.0 456.5 L593.0 456.6 L594.0 456.6 L595.0 456.7 L596.0 456.7 L597.0 456.8 L598.0 456.8 L599.0 456.9 L600.0 456.9 L601.0 456.9 L602.0 457.0 L603.0 457.0 L604.0 457.1 L605.0 457.1 L606.0 457.2 L607.0 457.2 L608.0 457.3 L609.0 457.3 L610.0 457.4 L611.0 457.4 L612.0 457.5 L613.0 457.5 L614.0 457.6 L615.0 457.6 L616.0 457.7 L617.0 457.7 L618.0 457.8 L619.0 457.8 L620.0 457.9 L621.0 458.0 L622.0 458.0 L623.0 458.1 L624.0 458.2 L625.0 458.2 L626.0 458.3 L627.0 458.4 L628.0 458.4 L629.0 458.5 L630.0 458.6 L631.0 458.6 L632.0 458.7 L633.0 458.8 L634.0 458.8 L635.0 458.9 L636.0 459.0 L637.0 459.0 L638.0 459.1 L639.0 459.1 L640.0 459.2" class="blue"/>
<path d="M505.0 453.4 L506.0 453.4 L507.0 453.4 L508.0 453.4 L509.0 453.4 L510.0 453.5 L511.0 453.5 L512.0 453.6 L513.0 453.7 L514.0 453.8 L515.0 453.9 L516.0 454.1 L517.0 454.2 L518.0 454.4 L519.0 454.5 L520.0 454.7 L521.0 454.8 L522.0 455.0 L523.0 455.1 L524.0 455.3 L525.0 455.4 L526.0 455.6 L527.0 455.8 L528.0 456.0 L529.0 456.2 L530.0 456.4 L531.0 456.6 L532.0 456.9 L533.0 457.1 L534.0 457.4 L535.0 457.7 L536.0 458.1 L537.0 458.5 L538.0 458.9 L539.0 459.4 L540.0 459.9 L541.0 460.4 L542.0 461.0 L543.0 461.6 L544.0 462.3 L545.0 463.0 L546.0 463.8 L547.0 464.6 L548.0 465.5 L549.0 466.4 L550.0 467.3 L551.0 468.3 L552.0 469.3 L553.0 470.4 L554.0 471.5 L555.0 472.6 L556.0 473.7 L557.0 474.9 L558.0 476.0 L559.0 477.2 L560.0 478.4 L561.0 479.5 L562.0 480.7 L563.0 481.8 L564.0 482.9 L565.0 484.0 L566.0 485.0 L567.0 486.0 L568.0 486.9 L569.0 487.8 L570.0 488.6 L571.0 489.3 L572.0 490.0 L573.0 490.5 L574.0 491.0 L575.0 491.4 L576.0 491.6 L577.0 491.8 L578.0 491.9 L579.0 491.9 L580.0 491.8 L581.0 491.6 L582.0 491.3 L583.0 490.9 L584.0 490.4 L585.0 489.8 L586.0 489.2 L587.0 488.5 L588.0 487.7 L589.0 486.8 L590.0 485.9 L591.0 485.0 L592.0 484.0 L593.0 482.9 L594.0 481.9 L595.0 480.8 L596.0 479.7 L597.0 478.6 L598.0 477.5 L599.0 476.4 L600.0 475.3 L601.0 474.2 L602.0 473.2 L603.0 472.2 L604.0 471.2 L605.0 470.2 L606.0 469.3 L607.0 468.5 L608.0 467.6 L609.0 466.8 L610.0 466.1 L611.0 465.4 L612.0 464.7 L613.0 464.1 L614.0 463.5 L615.0 463.0 L616.0 462.5 L617.0 462.1 L618.0 461.7 L619.0 461.3 L620.0 461.0 L621.0 460.7 L622.0 460.5 L623.0 460.3 L624.0 460.1 L625.0 459.9 L626.0 459.8 L627.0 459.7 L628.0 459.6 L629.0 459.5 L630.0 459.4 L631.0 459.4 L632.0 459.3 L633.0 459.3 L634.0 459.3 L635.0 459.3 L636.0 459.3 L637.0 459.3 L638.0 459.3 L639.0 459.4 L640.0 459.4" class="blue"/>
<path d="M505.0 453.5 L506.0 453.4 L507.0 453.4 L508.0 453.4 L509.0 453.5 L510.0 453.5 L511.0 453.6 L512.0 453.7 L513.0 453.9 L514.0 454.0 L515.0 454.1 L516.0 454.3 L517.0 454.5 L518.0 454.7 L519.0 454.9 L520.0 455.1 L521.0 455.3 L522.0 455.6 L523.0 455.9 L524.0 456.1 L525.0 456.4 L526.0 456.7 L527.0 457.1 L528.0 457.5 L529.0 457.9 L530.0 458.4 L531.0 458.9 L532.0 459.4 L533.0 460.0 L534.0 460.7 L535.0 461.5 L536.0 462.3 L537.0 463.2 L538.0 464.1 L539.0 465.2 L540.0 466.4 L541.0 467.6 L542.0 469.0 L543.0 470.4 L544.0 472.0 L545.0 473.6 L546.0 475.4 L547.0 477.3 L548.0 479.3 L549.0 481.3 L550.0 483.5 L551.0 485.8 L552.0 488.1 L553.0 490.6 L554.0 493.1 L555.0 495.6 L556.0 498.3 L557.0 500.9 L558.0 503.6 L559.0 506.3 L560.0 509.0 L561.0 511.7 L562.0 514.4 L563.0 517.0 L564.0 519.5 L565.0 522.0 L566.0 524.4 L567.0 526.6 L568.0 528.7 L569.0 530.7 L570.0 532.5 L571.0 534.2 L572.0 535.6 L573.0 536.9 L574.0 537.9 L575.0 538.8 L576.0 539.4 L577.0 539.7 L578.0 539.9 L579.0 539.8 L580.0 539.5 L581.0 539.0 L582.0 538.2 L583.0 537.2 L584.0 536.1 L585.0 534.7 L586.0 533.1 L587.0 531.4 L588.0 529.5 L589.0 527.4 L590.0 525.2 L591.0 522.9 L592.0 520.5 L593.0 518.1 L594.0 515.5 L595.0 513.0 L596.0 510.3 L597.0 507.7 L598.0 505.1 L599.0 502.5 L600.0 499.9 L601.0 497.3 L602.0 494.8 L603.0 492.4 L604.0 490.0 L605.0 487.7 L606.0 485.5 L607.0 483.4 L608.0 481.4 L609.0 479.5 L610.0 477.7 L611.0 476.0 L612.0 474.4 L613.0 472.9 L614.0 471.5 L615.0 470.2 L616.0 469.0 L617.0 467.9 L618.0 466.9 L619.0 466.0 L620.0 465.2 L621.0 464.4 L622.0 463.8 L623.0 463.2 L624.0 462.6 L625.0 462.2 L626.0 461.7 L627.0 461.4 L628.0 461.1 L629.0 460.8 L630.0 460.5 L631.0 460.3 L632.0 460.2 L633.0 460.0 L634.0 459.9 L635.0 459.8 L636.0 459.8 L637.0 459.7 L638.0 459.7 L639.0 459.6 L640.0 459.6" class="blue"/>
<path d="M505.0 453.5 L506.0 453.5 L507.0 453.5 L508.0 453.5 L509.0 453.6 L510.0 453.6 L511.0 453.7 L512.0 453.9 L513.0 454.0 L514.0 454.2 L515.0 454.4 L516.0 454.6 L517.0 454.8 L518.0 455.1 L519.0 455.4 L520.0 455.7 L521.0 456.0 L522.0 456.4 L523.0 456.8 L524.0 457.2 L525.0 457.6 L526.0 458.1 L527.0 458.7 L528.0 459.3 L529.0 460.0 L530.0 460.8 L531.0 461.6 L532.0 462.6 L533.0 463.6 L534.0 464.8 L535.0 466.0 L536.0 467.4 L537.0 469.0 L538.0 470.6 L539.0 472.4 L540.0 474.4 L541.0 476.5 L542.0 478.8 L543.0 481.3 L544.0 484.0 L545.0 486.8 L546.0 489.8 L547.0 493.0 L548.0 496.3 L549.0 499.9 L550.0 503.6 L551.0 507.4 L552.0 511.4 L553.0 515.6 L554.0 519.8 L555.0 524.2 L556.0 528.7 L557.0 533.2 L558.0 537.8 L559.0 542.4 L560.0 546.9 L561.0 551.5 L562.0 556.0 L563.0 560.5 L564.0 564.8 L565.0 569.0 L566.0 573.0 L567.0 576.8 L568.0 580.5 L569.0 583.8 L570.0 586.9 L571.0 589.7 L572.0 592.1 L573.0 594.3 L574.0 596.0 L575.0 597.4 L576.0 598.4 L577.0 599.1 L578.0 599.3 L579.0 599.1 L580.0 598.6 L581.0 597.6 L582.0 596.3 L583.0 594.6 L584.0 592.6 L585.0 590.2 L586.0 587.5 L587.0 584.5 L588.0 581.2 L589.0 577.6 L590.0 573.9 L591.0 569.9 L592.0 565.8 L593.0 561.6 L594.0 557.2 L595.0 552.8 L596.0 548.3 L597.0 543.7 L598.0 539.2 L599.0 534.7 L600.0 530.3 L601.0 525.9 L602.0 521.6 L603.0 517.4 L604.0 513.3 L605.0 509.4 L606.0 505.6 L607.0 502.0 L608.0 498.5 L609.0 495.2 L610.0 492.1 L611.0 489.1 L612.0 486.4 L613.0 483.8 L614.0 481.4 L615.0 479.1 L616.0 477.1 L617.0 475.2 L618.0 473.4 L619.0 471.8 L620.0 470.4 L621.0 469.0 L622.0 467.8 L623.0 466.8 L624.0 465.8 L625.0 464.9 L626.0 464.2 L627.0 463.5 L628.0 462.9 L629.0 462.4 L630.0 462.0 L631.0 461.6 L632.0 461.2 L633.0 460.9 L634.0 460.7 L635.0 460.5 L636.0 460.3 L637.0 460.2 L638.0 460.1 L639.0 460.0 L640.0 459.9" class="blue"/>
<path d="M80.0 445.5 L81.0 445.5 L82.0 445.5 L83.0 445.5 L84.0 445.5 L85.0 445.5 L86.0 445.5 L87.0 445.5 L88.0 445.5 L89.0 445.5 L90.0 445.5 L91.0 445.5 L92.0 445.5 L93.0 445.5 L94.0 445.5 L95.0 445.5 L96.0 445.5 L97.0 445.5 L98.0 445.5 L99.0 445.5 L100.0 445.5 L101.0 445.5 L102.0 445.5 L103.0 445.5 L104.0 445.5 L105.0 445.5 L106.0 445.5 L107.0 445.4 L108.0 445.4 L109.0 445.4 L110.0 445.4 L111.0 445.4 L112.0 445.4 L113.0 445.4 L114.0 445.4 L115.0 445.4 L116.0 445.4 L117.0 445.3 L118.0 445.3 L119.0 445.3 L120.0 445.3 L121.0 445.3 L122.0 445.3 L123.0 445.2 L124.0 445.2 L125.0 445.2 L126.0 445.2 L127.0 445.2 L128.0 445.1 L129.0 445.1 L130.0 445.1 L131.0 445.1 L132.0 445.1 L133.0 445.0 L134.0 445.0 L135.0 445.0 L136.0 445.0 L137.0 444.9 L138.0 444.9 L139.0 444.9 L140.0 444.9 L141.0 444.9 L142.0 444.8 L143.0 444.8 L144.0 444.8 L145.0 444.8 L146.0 444.7 L147.0 444.7 L148.0 444.7 L149.0 444.7 L150.0 444.7 L151.0 444.6 L152.0 444.6 L153.0 444.6 L154.0 444.6 L155.0 444.6 L156.0 444.6 L157.0 444.5 L158.0 444.5 L159.0 444.5 L160.0 444.5 L161.0 444.5 L162.0 444.5 L163.0 444.5 L164.0 444.5 L165.0 444.5 L166.0 444.5 L167.0 444.4 L168.0 444.4 L169.0 444.4 L170.0 444.4 L171.0 444.4 L172.0 444.4 L173.0 444.4 L174.0 444.4 L175.0 444.4 L176.0 444.5 L177.0 444.5 L178.0 444.5 L179.0 444.5 L180.0 444.5 L181.0 444.5 L182.0 444.5 L183.0 444.5 L184.0 444.5 L185.0 444.5 L186.0 444.5 L187.0 444.6 L188.0 444.6 L189.0 444.6 L190.0 444.6 L191.0 444.6 L192.0 444.6 L193.0 444.7 L194.0 444.7 L195.0 444.7 L196.0 444.7 L197.0 444.7 L198.0 444.8 L199.0 444.8 L200.0 444.8 L201.0 444.8 L202.0 444.8 L203.0 444.9 L204.0 444.9 L205.0 444.9 L206.0 445.0 L207.0 445.0 L208.0 445.0 L209.0 445.0 L210.0 445.1 L211.0 445.1 L212.0 445.1 L213.0 445.2 L214.0 445.2 L215.0 445.2 L216.0 445.3 L217.0 445.3 L218.0 445.4 L219.0 445.4 L220.0 445.5 L221.0 445.5 L222.0 445.6 L223.0 445.6 L224.0 445.7 L225.0 445.7 L226.0 445.8 L227.0 445.8 L228.0 445.9 L229.0 445.9 L230.0 446.0 L231.0 446.1 L232.0 446.1 L233.0 446.2 L234.0 446.3 L235.0 446.3 L236.0 446.4 L237.0 446.5 L238.0 446.6 L239.0 446.7 L240.0 446.8 L241.0 446.8 L242.0 446.9 L243.0 447.0 L244.0 447.1 L245.0 447.2 L246.0 447.3 L247.0 447.5 L248.0 447.6 L249.0 447.7 L250.0 447.8 L251.0 447.9 L252.0 448.1 L253.0 448.2 L254.0 448.3 L255.0 448.5 L256.0 448.6 L257.0 448.7 L258.0 448.9 L259.0 449.0 L260.0 449.2 L261.0 449.4 L262.0 449.5 L263.0 449.7 L264.0 449.8 L265.0 450.0 L266.0 450.2 L267.0 450.4 L268.0 450.6 L269.0 450.8 L270.0 451.0 L271.0 451.2 L272.0 451.4 L273.0 451.7 L274.0 451.9 L275.0 452.2 L276.0 452.5 L277.0 452.7 L278.0 453.0 L279.0 453.3 L280.0 453.6 L281.0 454.0 L282.0 454.2 L283.0 454.5 L284.0 454.8 L285.0 455.1 L286.0 455.3 L287.0 455.5 L288.0 455.7 L289.0 455.9 L290.0 456.0 L291.0 456.1 L292.0 456.1 L293.0 456.1 L294.0 456.1 L295.0 456.0 L296.0 455.8 L297.0 455.7 L298.0 455.5 L299.0 455.3 L300.0 455.1 L301.0 454.9 L302.0 454.7 L303.0 454.5 L304.0 454.3 L305.0 454.0 L306.0 453.8 L307.0 453.5 L308.0 453.3 L309.0 453.0 L310.0 452.7 L311.0 452.5 L312.0 452.2 L313.0 451.9 L314.0 451.6 L315.0 451.4 L316.0 451.1 L317.0 450.8 L318.0 450.6 L319.0 450.3 L320.0 450.1 L321.0 449.8 L322.0 449.6 L323.0 449.4 L324.0 449.1 L325.0 449.0 L326.0 448.8 L327.0 448.6 L328.0 448.5 L329.0 448.3 L330.0 448.2 L331.0 448.1 L332.0 448.0 L333.0 448.0 L334.0 447.9 L335.0 447.8 L336.0 447.8 L337.0 447.7 L338.0 447.7 L339.0 447.7 L340.0 447.6 L341.0 447.6 L342.0 447.6 L343.0 447.6 L344.0 447.6 L345.0 447.6 L346.0 447.6 L347.0 447.6 L348.0 447.7 L349.0 447.7 L350.0 447.7 L351.0 447.7 L352.0 447.8 L353.0 447.8 L354.0 447.8 L355.0 447.9 L356.0 447.9 L357.0 448.0 L358.0 448.0 L359.0 448.1 L360.0 448.2 L361.0 448.2 L362.0 448.3 L363.0 448.4 L364.0 448.5 L365.0 448.5 L366.0 448.6 L367.0 448.7 L368.0 448.8 L369.0 448.9 L370.0 449.1 L371.0 449.2 L372.0 449.3 L373.0 449.5 L374.0 449.6 L375.0 449.8 L376.0 450.0 L377.0 450.2 L378.0 450.4 L379.0 450.7 L380.0 451.0 L381.0 451.4 L382.0 451.8 L383.0 452.3 L384.0 452.9 L385.0 453.6 L386.0 454.5 L387.0 455.5 L388.0 456.6 L389.0 457.8 L390.0 459.1 L391.0 460.4 L392.0 461.6 L393.0 462.9 L394.0 464.2 L395.0 465.7 L396.0 467.4 L397.0 469.3 L398.0 471.3 L399.0 473.6 L400.0 476.0 L401.0 478.4 L402.0 481.1 L403.0 483.8 L404.0 486.8 L405.0 490.1 L406.0 493.7 L407.0 497.7 L408.0 502.3 L409.0 507.4 L410.0 513.1 L411.0 519.2 L412.0 525.4 L413.0 531.6 L414.0 537.6 L415.0 543.3 L416.0 548.8 L417.0 554.0 L418.0 559.2 L419.0 564.5 L420.0 570.1 L421.0 576.0 L422.0 582.0 L423.0 588.0 L424.0 593.7 L425.0 599.2 L426.0 604.2 L427.0 608.7 L428.0 612.8 L429.0 616.7 L430.0 620.3 L431.0 623.6 L432.0 626.9 L433.0 629.9 L434.0 632.7 L435.0 635.0 L436.0 636.9 L437.0 638.2 L438.0 639.0 L439.0 639.4 L440.0 639.3 L441.0 638.9 L442.0 638.0 L443.0 636.8 L444.0 635.3 L445.0 633.3 L446.0 630.7 L447.0 627.5 L448.0 623.4 L449.0 618.6 L450.0 613.2 L451.0 607.6 L452.0 601.9 L453.0 596.4 L454.0 591.2 L455.0 586.2 L456.0 581.3 L457.0 576.5 L458.0 571.6 L459.0 566.6 L460.0 561.5 L461.0 556.4 L462.0 551.2 L463.0 546.0 L464.0 540.9 L465.0 535.8 L466.0 530.5 L467.0 525.1 L468.0 519.4 L469.0 513.5 L470.0 507.7 L471.0 502.3 L472.0 497.3 L473.0 493.1 L474.0 489.5 L475.0 486.4 L476.0 483.7 L477.0 481.3 L478.0 479.2 L479.0 477.1 L480.0 475.0 L481.0 472.8 L482.0 470.4 L483.0 468.2 L484.0 466.0 L485.0 464.1 L486.0 462.5 L487.0 461.1 L488.0 460.0 L489.0 459.1 L490.0 458.4 L491.0 457.7 L492.0 457.1 L493.0 456.6 L494.0 456.2 L495.0 455.8 L496.0 455.4 L497.0 455.1 L498.0 454.9 L499.0 454.7 L500.0 454.5 L501.0 454.4 L502.0 454.3 L503.0 454.2 L504.0 454.2 L505.0 454.1 L506.0 454.1 L507.0 454.1 L508.0 454.1 L509.0 454.1 L510.0 454.2 L511.0 454.2 L512.0 454.3 L513.0 454.3 L514.0 454.4 L515.0 454.5 L516.0 454.6 L517.0 454.8 L518.0 454.9 L519.0 455.1 L520.0 455.3 L521.0 455.5 L522.0 455.7 L523.0 455.9 L524.0 456.2 L525.0 456.5 L526.0 456.8 L527.0 457.2 L528.0 457.7 L529.0 458.2 L530.0 458.8 L531.0 459.4 L532.0 460.1 L533.0 460.8 L534.0 461.6 L535.0 462.4 L536.0 463.3 L537.0 464.2 L538.0 465.2 L539.0 466.2 L540.0 467.3 L541.0 468.3 L542.0 469.5 L543.0 470.6 L544.0 471.9 L545.0 473.3 L546.0 474.8 L547.0 476.6 L548.0 478.5 L549.0 480.7 L550.0 483.1 L551.0 485.6 L552.0 488.3 L553.0 491.1 L554.0 494.0 L555.0 496.9 L556.0 499.8 L557.0 502.8 L558.0 505.8 L559.0 508.7 L560.0 511.7 L561.0 514.7 L562.0 517.7 L563.0 520.7 L564.0 523.7 L565.0 526.6 L566.0 529.5 L567.0 532.2 L568.0 534.8 L569.0 537.1 L570.0 539.1 L571.0 540.9 L572.0 542.4 L573.0 543.7 L574.0 544.7 L575.0 545.4 L576.0 545.8 L577.0 546.1 L578.0 546.2 L579.0 546.1 L580.0 545.9 L581.0 545.5 L582.0 544.8 L583.0 543.9 L584.0 542.7 L585.0 541.3 L586.0 539.6 L587.0 537.7 L588.0 535.6 L589.0 533.2 L590.0 530.7 L591.0 528.0 L592.0 525.1 L593.0 522.2 L594.0 519.2 L595.0 516.2 L596.0 513.1 L597.0 510.1 L598.0 507.1 L599.0 504.1 L600.0 501.1 L601.0 498.1 L602.0 495.2 L603.0 492.4 L604.0 489.6 L605.0 487.0 L606.0 484.4 L607.0 482.0 L608.0 479.7 L609.0 477.6 L610.0 475.6 L611.0 473.7 L612.0 472.1 L613.0 470.6 L614.0 469.2 L615.0 468.0 L616.0 466.9 L617.0 466.0 L618.0 465.1 L619.0 464.3 L620.0 463.6 L621.0 463.0 L622.0 462.4 L623.0 461.9 L624.0 461.5 L625.0 461.1 L626.0 460.7 L627.0 460.4 L628.0 460.1 L629.0 459.9 L630.0 459.7 L631.0 459.6 L632.0 459.4 L633.0 459.3 L634.0 459.2 L635.0 459.2 L636.0 459.1 L637.0 459.1 L638.0 459.1 L639.0 459.1 L640.0 459.1 L641.0 459.1 L642.0 459.1 L643.0 459.2 L644.0 459.2 L645.0 459.3 L646.0 459.4 L647.0 459.4 L648.0 459.5 L649.0 459.6 L650.0 459.7 L651.0 459.7 L652.0 459.8 L653.0 459.9 L654.0 460.0 L655.0 460.1 L656.0 460.2 L657.0 460.2 L658.0 460.3 L659.0 460.4 L660.0 460.5 L661.0 460.6 L662.0 460.7 L663.0 460.7 L664.0 460.8 L665.0 460.9 L666.0 461.0 L667.0 461.1 L668.0 461.1 L669.0 461.2 L670.0 461.3 L671.0 461.4 L672.0 461.5 L673.0 461.6 L674.0 461.7 L675.0 461.8 L676.0 461.9 L677.0 462.0 L678.0 462.1 L679.0 462.3 L680.0 462.4 L681.0 462.5 L682.0 462.7 L683.0 462.8 L684.0 463.0 L685.0 463.2 L686.0 463.4 L687.0 463.5 L688.0 463.7 L689.0 463.9 L690.0 464.1 L691.0 464.3 L692.0 464.5 L693.0 464.6 L694.0 464.8 L695.0 465.0 L696.0 465.2 L697.0 465.4 L698.0 465.6 L699.0 465.8 L700.0 466.0 L701.0 466.1 L702.0 466.3 L703.0 466.5 L704.0 466.7 L705.0 466.8 L706.0 467.0 L707.0 467.1 L708.0 467.3 L709.0 467.5 L710.0 467.7 L711.0 467.9 L712.0 468.1 L713.0 468.3 L714.0 468.6 L715.0 468.9 L716.0 469.2 L717.0 469.5 L718.0 469.8 L719.0 470.2 L720.0 470.7 L721.0 471.1 L722.0 471.7 L723.0 472.2 L724.0 472.9 L725.0 473.5 L726.0 474.3 L727.0 475.0 L728.0 475.8 L729.0 476.7 L730.0 477.5 L731.0 478.4 L732.0 479.3 L733.0 480.3 L734.0 481.2 L735.0 482.3 L736.0 483.3 L737.0 484.4 L738.0 485.5 L739.0 486.7 L740.0 488.0 L741.0 489.3 L742.0 490.6 L743.0 492.0 L744.0 493.4 L745.0 494.9 L746.0 496.4 L747.0 498.0 L748.0 499.6 L749.0 501.4 L750.0 503.3 L751.0 505.4 L752.0 507.7 L753.0 510.1 L754.0 512.7 L755.0 515.3 L756.0 517.9 L757.0 520.5 L758.0 523.0" class="red"/>
</g>
<rect class="ax" x="86.6" y="419.9" width="668.8" height="292.0"/>
<path class="tk" d="M165.5 711.9 v-11.8 M165.5 419.9 v11.8M283.5 711.9 v-11.8 M283.5 419.9 v11.8M401.5 711.9 v-11.8 M401.5 419.9 v11.8M519.5 711.9 v-11.8 M519.5 419.9 v11.8M637.5 711.9 v-11.8 M637.5 419.9 v11.8M86.6 505.6 h11.8 M755.4 505.6 h-11.8M86.6 574.4 h11.8 M755.4 574.4 h-11.8M86.6 643.0 h11.8 M755.4 643.0 h-11.8"/>
<text transform="translate(162.5 739.9) scale(1 1.090)" text-anchor="middle">3731.7</text>
<text transform="translate(283.5 739.9) scale(1 1.090)" text-anchor="middle">3732</text>
<text transform="translate(398.5 739.9) scale(1 1.090)" text-anchor="middle">3732.3</text>
<text transform="translate(516.5 739.9) scale(1 1.090)" text-anchor="middle">3732.6</text>
<text transform="translate(634.5 739.9) scale(1 1.090)" text-anchor="middle">3732.9</text>
<text transform="translate(71.4 446.4) scale(1 1.090)" text-anchor="end">1.0</text>
<text transform="translate(71.4 515.1) scale(1 1.090)" text-anchor="end">0.8</text>
<text transform="translate(71.4 583.9) scale(1 1.090)" text-anchor="end">0.6</text>
<text transform="translate(71.4 652.5) scale(1 1.090)" text-anchor="end">0.4</text>
<text transform="translate(71.4 721.2) scale(1 1.090)" text-anchor="end">0.2</text>
<text transform="translate(422.4 768.0) scale(1 1.090)" text-anchor="middle">Lambda</text>
<text class="ser" transform="translate(33.0 566.0) rotate(-90)" text-anchor="middle" textLength="131.0" lengthAdjust="spacingAndGlyphs">Arbitrary Flux</text>
<text transform="translate(107.3 595.1) scale(1 1.090)" style="fill:#000">HE 2229-4153</text>
<text transform="translate(107.3 622.4) scale(1 1.090)" style="fill:#000">V II 3732.750 A</text>
<text transform="translate(107.3 650.0) scale(1 1.090)" style="fill:#f00">A(V) = 1.58</text>
<text transform="translate(107.3 677.6) scale(1 1.090)" style="fill:#00f">A(V) = 2.00,1.50,1.00,none</text>
</svg></body></html>
